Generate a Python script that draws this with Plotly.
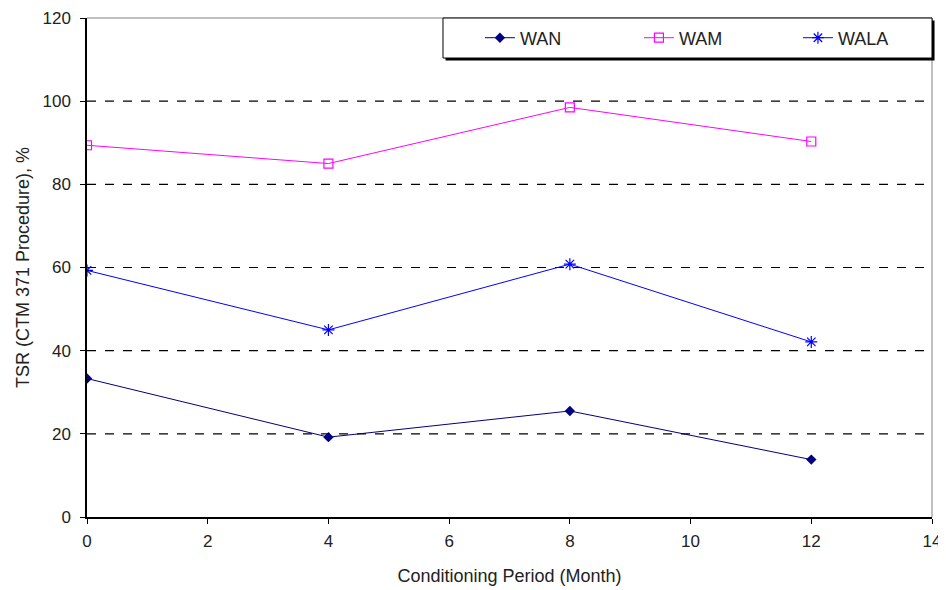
import plotly.graph_objects as go

months = [0, 4, 8, 12]
wan = [33.3, 19.2, 25.5, 13.8]
wam = [89.4, 85.0, 98.5, 90.3]
wala = [59.3, 45.0, 60.8, 42.1]

x_ticks = [0, 2, 4, 6, 8, 10, 12, 14]
y_ticks = [0, 20, 40, 60, 80, 100, 120]

fig = go.Figure()
fig.add_trace(go.Scatter(x=months, y=wan, name="WAN", mode="lines+markers",
                         line=dict(color="#000080", width=1),
                         marker=dict(symbol="diamond", size=8, color="#000080")))
fig.add_trace(go.Scatter(x=months, y=wam, name="WAM", mode="lines+markers",
                         line=dict(color="#ff00ff", width=1),
                         marker=dict(symbol="square-open", size=9, color="#ff00ff", line=dict(width=1.2))))
fig.add_trace(go.Scatter(x=months, y=wala, name="WALA", mode="lines+markers",
                         line=dict(color="#0000ff", width=1),
                         marker=dict(symbol="asterisk-open", size=10, color="#0000ff", line=dict(width=1.2, color="#0000ff"))))

# dashed gridlines
for v in y_ticks[1:-1]:
    fig.add_shape(type="line", xref="paper", x0=0, x1=1, yref="y", y0=v, y1=v,
                  line=dict(color="black", width=1.2, dash="dash"), layer="below")
# top / right border
fig.add_shape(type="line", xref="paper", x0=0, x1=1, yref="paper", y0=1, y1=1,
              line=dict(color="#808080", width=1))
fig.add_shape(type="line", xref="paper", x0=1, x1=1, yref="paper", y0=0, y1=1,
              line=dict(color="#808080", width=1))

# legend frame with shadow
LX0, LY0 = 0.4213, 0.9198
fig.add_shape(type="rect", xref="paper", yref="paper", x0=LX0 + 0.003, x1=1.003, y0=LY0 - 0.005, y1=0.995,
              line=dict(width=0), fillcolor="black", layer="above")
fig.add_shape(type="rect", xref="paper", yref="paper", x0=LX0, x1=1, y0=LY0, y1=1,
              line=dict(width=1, color="black"), fillcolor="white", layer="above")

fig.update_layout(
    width=938, height=582,
    margin=dict(l=79, r=14, t=10, b=73, autoexpand=False),
    plot_bgcolor="white", paper_bgcolor="white",
    font=dict(family="Liberation Sans, Arial, sans-serif", size=17, color="#222"),
    showlegend=True,
    legend=dict(orientation="h", x=0.465, xanchor="left", y=(LY0 + 1) / 2, yanchor="middle",
                borderwidth=0, bgcolor="rgba(0,0,0,0)",
                entrywidth=114, font=dict(size=18), itemwidth=30),
    xaxis=dict(range=[0, 14], tickvals=x_ticks, showgrid=False, zeroline=False,
               showline=True, linecolor="black", linewidth=1.5,
               ticks="outside", ticklen=5, tickcolor="black", automargin=False,
               tickfont=dict(size=17), ticklabelstandoff=3,
               title=dict(text="Conditioning Period (Month)", standoff=19, font=dict(size=18))),
    yaxis=dict(range=[0, 120], tickvals=y_ticks, showgrid=False, zeroline=False,
               showline=True, linecolor="black", linewidth=1.5,
               ticks="outside", ticklen=5, tickcolor="black", automargin=False,
               tickfont=dict(size=17), ticklabelstandoff=6,
               title=dict(text="TSR (CTM 371 Procedure), %", standoff=8, font=dict(size=18))),
)

fig.write_html("out.html")
